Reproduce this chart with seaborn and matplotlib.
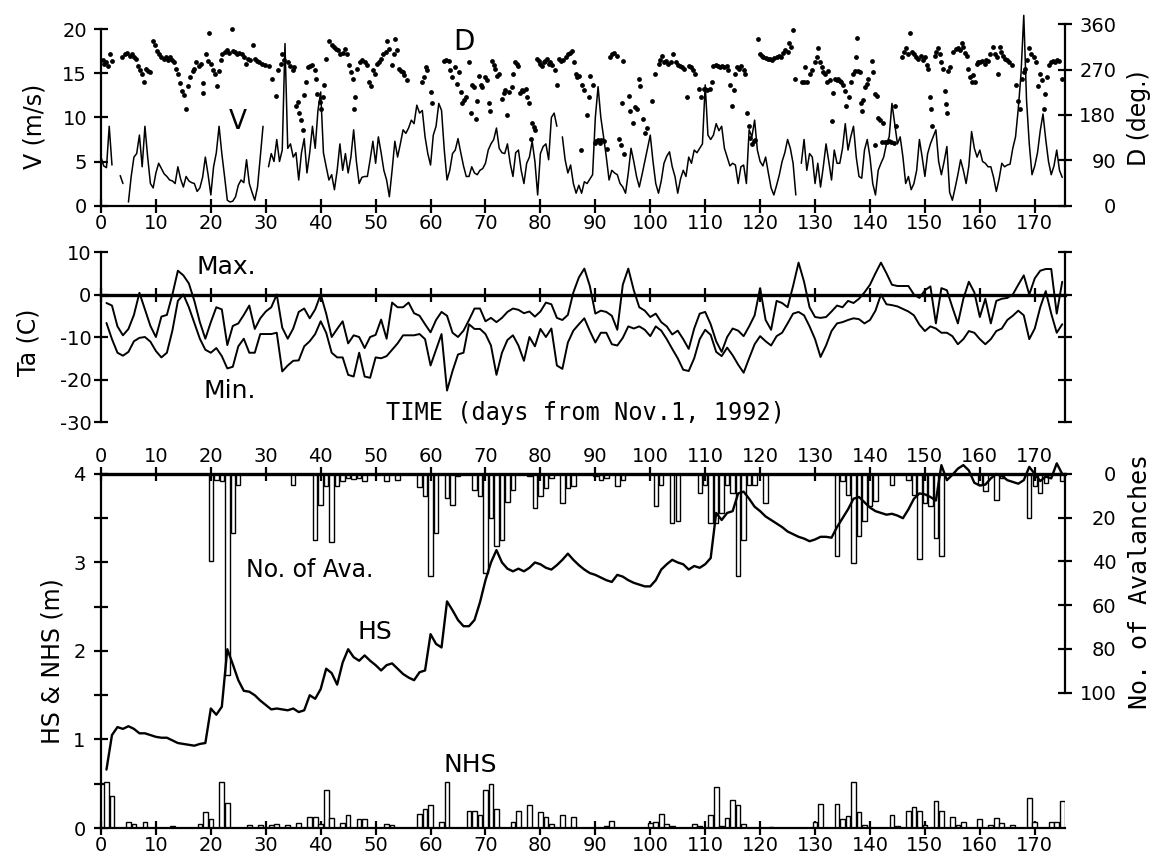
import numpy as np
import pandas as pd
import seaborn as sns
import matplotlib.pyplot as plt
from matplotlib.ticker import MultipleLocator

nan = np.nan

# Wind speed V (m/s), read every half day from day 0 to day 175 (nan = no record)
v_ms = [5.5, 4.5, 4.3, 9.0, 4.6, nan, nan, 3.4, 2.5, nan, 0.4, 3.3, 5.5, 5.9, 8.0, 4.4, 9.0, 5.5, 2.5, 2.0,
        3.7, 4.8, 4.2, 3.6, 3.3, 2.9, 2.8, 2.5, 4.4, 3.0, 2.1, 3.3, 2.8, 2.6, 2.5, 1.6, 2.0, 3.2, 5.5, 3.5,
        1.2, 4.4, 6.0, 9.0, 5.9, 3.3, 0.6, 0.4, 0.5, 1.0, 2.3, 2.9, 2.6, 5.2, 2.5, 1.5, 0.6, 2.1, 5.5, 9.0,
        nan, 4.4, 5.9, 5.0, 7.5, 5.0, 6.3, 18.4, 6.5, 7.0, 5.5, 6.0, 2.9, 6.0, 7.6, 3.7, 6.0, 9.0, 6.5, 10.8,
        12.9, 6.0, 4.4, 2.9, 3.5, 1.8, 4.0, 7.0, 4.0, 5.9, 3.7, 5.5, 8.6, 5.0, 2.5, 3.2, 3.3, 3.3, 5.2, 7.3,
        4.8, 7.8, 6.0, 4.0, 2.9, 1.0, 4.0, 7.3, 5.5, 7.0, 8.6, 8.2, 8.8, 9.7, 9.3, 11.4, 10.5, 10.8, 7.8, 5.9,
        4.6, 8.0, 9.0, 11.6, 10.8, 6.3, 2.9, 4.0, 5.9, 6.3, 7.6, 6.0, 4.5, 3.3, 3.3, 4.4, 3.7, 3.5, 4.0, 4.2,
        4.8, 6.3, 7.0, 7.5, 8.8, 6.5, 6.0, 5.9, 7.0, 4.8, 3.3, 6.0, 6.3, 4.0, 2.5, 4.8, 5.5, 7.3, 5.0, 1.2,
        5.9, 6.7, 7.0, 5.2, 10.0, 10.5, 9.0, nan, 7.8, 5.2, 3.7, 4.6, 2.5, 1.4, 2.3, 1.4, 2.7, 2.5, 3.0, 3.5,
        10.0, 13.5, 10.0, 7.8, 5.5, 2.9, 4.0, 3.7, 3.5, 2.5, 2.1, 1.4, 3.7, 6.5, 5.0, 3.3, 2.1, 3.5, 5.0, 6.5,
        8.0, 5.0, 2.5, 1.4, 2.8, 4.8, 5.6, 6.1, 4.4, 3.3, 1.4, 3.0, 4.0, 3.3, 5.5, 4.8, 6.3, 6.0, 6.5, 7.0,
        13.7, 8.0, 7.5, 8.0, 9.3, 8.5, 9.0, 6.5, 5.5, 4.5, 4.8, 4.6, 2.5, 4.4, 4.6, 2.5, 8.6, 7.8, 9.7, 6.3,
        5.0, 4.5, 5.5, 3.7, 2.0, 1.2, 2.3, 3.5, 5.0, 6.0, 7.5, 6.5, 4.8, 1.2, nan, 4.8, 7.5, 4.0, 5.9, 5.5,
        2.5, 4.8, 2.1, 4.4, 7.0, 5.0, 2.9, 6.3, 4.8, 4.8, 6.5, 9.3, 6.3, 7.8, 9.0, 5.5, 3.3, 3.1, 6.3, 7.5,
        5.5, 2.5, 1.2, 4.0, 4.8, 5.5, 7.0, 7.8, 11.6, 9.3, 7.0, 7.8, 5.5, 2.5, 3.3, 1.8, 2.5, 4.0, 7.5, 5.5,
        3.3, 5.9, 7.0, 7.8, 8.6, 5.0, 3.5, 5.0, 6.7, 1.5, 0.6, 2.0, 3.5, 5.2, 4.0, 2.5, 4.5, 8.4, 6.5, 5.5,
        6.3, 5.0, 4.8, 4.4, 4.4, 3.2, 1.6, 3.0, 4.8, 4.4, 4.6, 4.7, 6.5, 7.8, 11.0, 15.0, 21.6, 12.0, 7.0, 3.5,
        4.5, 6.0, 8.5, 10.4, 7.5, 5.0, 3.5, 4.5, 6.3, 4.0, 3.2]
v_day = np.arange(len(v_ms)) * 0.5

# Wind direction D (deg.), individual readings
d_day = [0.3, 0.6, 0.9, 1.2, 1.6, 2.0, 3.8, 4.3, 4.8, 5.2, 5.6, 6.0, 6.4, 6.8, 7.1, 7.5, 7.8, 8.2, 8.6, 9.0,
         9.4, 9.8, 10.2, 10.6, 11.0, 11.4, 11.8, 12.2, 12.6, 13.0, 13.3, 13.6, 14.0, 14.4, 14.8, 15.1, 15.5, 15.8, 16.2, 16.7,
         17.0, 17.3, 17.8, 18.2, 18.5, 18.6, 19.1, 19.4, 19.7, 20.1, 20.4, 20.8, 21.1, 21.5, 21.8, 22.1, 22.5, 22.9, 23.3, 23.8,
         24.0, 24.4, 24.8, 25.2, 25.6, 26.0, 26.4, 26.8, 27.2, 27.6, 28.0, 28.4, 28.8, 29.4, 29.9, 30.6, 31.2, 31.8, 32.3, 32.7,
         33.0, 33.4, 34.1, 34.5, 34.9, 35.2, 35.5, 35.8, 36.1, 36.5, 36.7, 37.0, 37.3, 37.6, 38.0, 38.5, 38.9, 39.1, 39.4, 39.8,
         40.1, 40.4, 40.6, 40.9, 41.5, 42.0, 42.4, 42.8, 43.2, 43.6, 44.0, 44.4, 44.7, 45.1, 45.5, 45.8, 46.1, 46.3, 46.7, 47.2,
         47.6, 48.0, 48.4, 48.8, 49.1, 49.5, 49.9, 50.3, 50.7, 51.0, 51.4, 51.8, 52.1, 52.5, 53.0, 53.3, 53.6, 53.9, 54.2, 54.6,
         55.0, 55.2, 55.8, 58.5, 58.8, 59.1, 59.4, 60.0, 60.3, 62.4, 62.8, 63.3, 63.6, 63.9, 64.5, 64.8, 65.2, 65.5, 65.8, 66.1,
         66.4, 67.0, 67.3, 67.6, 67.9, 68.2, 68.5, 68.8, 69.1, 69.4, 70.0, 70.3, 70.6, 70.9, 71.2, 71.5, 71.8, 72.1, 72.5, 73.0,
         73.3, 73.6, 73.9, 74.3, 74.8, 75.1, 75.4, 75.7, 76.0, 76.3, 76.6, 76.9, 77.3, 77.6, 77.9, 78.2, 78.5, 78.8, 79.1, 79.4,
         79.7, 80.0, 80.3, 80.6, 80.9, 81.2, 81.5, 81.8, 82.2, 82.6, 83.0, 83.4, 83.8, 84.2, 84.6, 85.0, 85.4, 85.8, 86.1, 86.4,
         86.7, 87.0, 87.3, 87.6, 88.0, 88.5, 88.8, 89.1, 89.6, 89.9, 90.2, 90.5, 90.8, 91.1, 91.5, 92.1, 92.7, 93.0, 93.4, 93.9,
         94.3, 94.6, 94.9, 95.0, 95.2, 96.1, 96.4, 96.8, 97.2, 97.6, 97.9, 98.2, 98.7, 99.1, 99.4, 100.3, 100.9, 101.5, 101.8, 102.1,
         102.5, 102.9, 103.3, 103.7, 104.2, 104.6, 105.0, 105.5, 105.8, 106.2, 106.7, 107.0, 107.4, 107.8, 108.2, 108.8, 109.3, 109.7, 110.0, 110.4,
         110.9, 111.2, 111.5, 111.9, 112.3, 112.7, 113.1, 113.5, 113.9, 114.2, 114.5, 114.8, 115.2, 115.5, 115.8, 116.2, 116.6, 117.0, 117.3, 117.6,
         117.9, 118.2, 118.5, 118.8, 119.1, 119.7, 120.0, 120.3, 120.6, 121.0, 121.4, 121.8, 122.2, 122.6, 123.0, 123.4, 123.8, 124.2, 124.6, 125.0,
         125.2, 125.6, 126.0, 126.4, 127.6, 128.0, 128.2, 128.5, 129.0, 129.4, 130.0, 130.3, 130.6, 130.9, 131.2, 131.5, 131.8, 132.1, 132.4, 132.7,
         133.0, 133.3, 133.6, 134.0, 134.2, 134.5, 134.8, 135.1, 135.4, 135.7, 136.2, 136.6, 137.0, 137.2, 137.5, 137.6, 137.9, 138.2, 138.4, 138.6,
         138.8, 139.1, 139.4, 139.7, 140.3, 140.6, 140.9, 141.0, 141.2, 141.5, 141.8, 142.1, 142.4, 142.7, 143.1, 143.5, 143.9, 144.3, 144.5, 144.8,
         145.9, 146.2, 146.5, 146.9, 147.3, 147.6, 148.0, 148.4, 148.8, 149.2, 149.6, 150.0, 150.3, 150.6, 150.9, 151.2, 151.3, 151.8, 152.1, 152.4,
         152.7, 153.0, 153.3, 153.6, 153.9, 154.0, 154.2, 154.6, 155.2, 155.6, 156.0, 156.4, 156.7, 157.0, 157.3, 157.6, 157.9, 158.2, 158.5, 158.8,
         159.1, 159.4, 159.7, 160.0, 160.4, 160.9, 161.2, 161.5, 161.9, 162.4, 162.8, 163.1, 163.3, 163.6, 163.9, 164.2, 164.6, 165.0, 165.4, 165.8,
         166.5, 167.0, 167.3, 167.6, 168.0, 168.2, 168.6, 169.0, 169.4, 169.8, 170.2, 170.6, 170.9, 171.3, 171.6, 171.9, 172.2, 172.6, 172.9, 173.3,
         173.7, 174.1, 174.5, 175.0]
d_deg = [290, 282, 285, 278, 300, 288, 295, 300, 302, 298, 300, 296, 292, 278, 270, 262, 245, 272, 268, 265,
         326, 318, 306, 300, 296, 292, 295, 290, 296, 290, 285, 272, 262, 244, 228, 220, 191, 238, 255, 268,
         272, 285, 278, 282, 244, 224, 300, 288, 343, 282, 270, 262, 238, 268, 290, 300, 305, 308, 302, 350,
         306, 304, 300, 302, 300, 296, 282, 292, 290, 318, 292, 288, 286, 282, 280, 278, 252, 218, 270, 282,
         300, 290, 285, 278, 270, 275, 197, 205, 184, 170, 150, 220, 245, 275, 278, 280, 270, 252, 221, 205,
         191, 215, 240, 292, 326, 318, 315, 310, 308, 300, 302, 310, 300, 280, 265, 252, 191, 215, 272, 285,
         290, 285, 280, 245, 238, 270, 262, 282, 285, 292, 300, 305, 326, 310, 280, 300, 330, 308, 272, 268,
         265, 260, 249, 245, 255, 275, 270, 225, 204, 288, 290, 288, 270, 255, 275, 241, 265, 225, 204, 210,
         215, 285, 184, 240, 235, 171, 207, 258, 240, 235, 255, 250, 204, 188, 288, 280, 272, 258, 262, 211,
         224, 230, 180, 225, 235, 262, 285, 282, 278, 224, 230, 228, 232, 215, 204, 133, 164, 156, 150, 292,
         288, 282, 278, 285, 288, 292, 282, 285, 280, 270, 240, 292, 288, 290, 295, 300, 302, 306, 285, 262,
         255, 258, 110, 240, 230, 180, 215, 258, 240, 125, 128, 130, 125, 130, 128, 113, 296, 300, 302, 298,
         133, 120, 204, 288, 103, 218, 188, 164, 195, 191, 252, 238, 171, 144, 154, 207, 261, 282, 290, 298,
         285, 288, 282, 285, 301, 285, 280, 278, 275, 272, 215, 278, 275, 270, 262, 231, 215, 231, 232, 230,
         231, 245, 278, 280, 278, 276, 278, 275, 278, 270, 240, 197, 230, 262, 275, 272, 278, 270, 261, 184,
         157, 135, 123, 128, 130, 330, 300, 298, 296, 294, 292, 292, 290, 294, 296, 298, 295, 303, 308, 305,
         322, 315, 348, 252, 245, 245, 275, 246, 261, 270, 285, 295, 312, 285, 275, 265, 261, 245, 268, 249,
         167, 224, 252, 250, 252, 248, 245, 240, 228, 197, 215, 245, 262, 268, 295, 332, 268, 265, 204, 188,
         210, 235, 241, 252, 288, 265, 221, 120, 218, 174, 170, 126, 164, 126, 126, 128, 126, 125, 197, 157,
         295, 305, 312, 300, 342, 305, 300, 296, 292, 298, 290, 296, 280, 271, 215, 191, 157, 298, 305, 312,
         300, 285, 271, 228, 201, 184, 268, 275, 305, 310, 312, 308, 322, 315, 302, 298, 271, 255, 245, 260,
         245, 281, 285, 285, 288, 282, 290, 288, 300, 315, 300, 295, 261, 315, 305, 298, 292, 290, 285, 280,
         240, 208, 191, 251, 265, 272, 290, 312, 300, 296, 285, 238, 262, 250, 191, 221, 255, 280, 285, 288,
         286, 290, 288, 251]

# Daily air temperature Ta (C), days 1..175
t_day = np.arange(1, 176)
t_max = [-2.0, -2.6, -7.5, -9.6, -8.1, -4.8, 0.4, -3.5, -7.4, -10.0,
         -5.2, -4.8, 0.0, 5.6, 4.5, 2.6, -1.5, -6.5, -10.4, -6.5,
         -3.0, -3.5, -11.9, -7.4, -6.8, -4.8, -2.6, -8.1, -5.6, -4.0,
         -3.0, 0.0, -7.8, -10.4, -8.0, -4.1, -3.3, -5.6, -3.5, 0.0,
         -4.5, -10.0, -8.1, -6.3, -11.5, -9.6, -10.0, -12.6, -10.0, -9.5,
         -5.9, -10.4, -1.9, -3.0, -3.0, -1.9, -4.4, -5.0, -7.0, -8.9,
         -6.0, -4.1, -5.0, -9.0, -10.0, -8.5, -6.0, -3.3, -3.3, -6.3,
         -5.5, -6.5, -5.5, -4.1, -3.3, -3.6, -4.4, -4.0, -5.2, -4.0,
         -1.9, -2.3, -5.5, -6.0, -4.8, 0.5, 4.0, 6.1, 2.0, -4.5,
         -3.8, -4.1, -5.0, -8.3, 2.3, 6.1, 1.0, -3.0, -3.8, -5.3,
         -4.5, -6.5, -7.5, -9.4, -8.5, -10.5, -12.8, -8.0, -4.5, -4.1,
         -7.0, -11.0, -13.5, -10.0, -8.0, -8.5, -9.8, -7.5, -4.9, 1.5,
         -6.0, -8.3, -1.5, -2.0, -3.0, 2.0, 7.5, 3.0, -3.0, -5.3,
         -5.5, -5.3, -4.0, -2.6, -3.0, -1.5, -2.0, -1.0, 0.5, 2.3,
         5.0, 7.5, 5.0, 2.3, 2.0, 2.0, 2.0, 0.0, -0.8, 1.0,
         1.9, -6.8, 1.5, 1.0, -3.0, -6.8, -1.0, 3.0, 0.5, -5.3,
         -1.0, -6.8, -1.5, -1.0, -0.8, 0.0, 2.3, 4.5, 0.0, 3.8,
         5.6, 6.0, 6.0, -4.5, 3.0]
t_min = [-6.7, -10.5, -13.7, -14.4, -13.5, -11.0, -10.2, -10.0, -11.1, -13.3,
         -14.8, -13.7, -8.5, -1.5, 0.0, -3.0, -6.7, -10.4, -13.0, -13.7,
         -12.6, -14.5, -17.4, -17.0, -12.2, -10.4, -13.7, -13.7, -9.3, -9.3,
         -9.3, -9.0, -18.1, -16.7, -15.6, -15.5, -12.2, -11.0, -9.3, -6.3,
         -9.0, -13.7, -14.8, -14.8, -18.9, -19.3, -13.7, -19.3, -19.6, -14.8,
         -15.0, -14.5, -13.0, -11.5, -9.6, -9.6, -9.6, -9.3, -10.5, -16.7,
         -13.0, -9.3, -22.6, -18.0, -14.1, -13.7, -7.0, -8.1, -8.1, -9.3,
         -12.0, -18.9, -13.7, -10.7, -9.6, -12.0, -15.6, -10.0, -12.2, -8.1,
         -10.0, -8.0, -16.7, -17.5, -11.3, -8.5, -7.0, -5.6, -8.6, -11.3,
         -9.0, -9.0, -11.7, -12.0, -10.2, -7.5, -8.0, -7.5, -8.3, -9.8,
         -7.5, -8.5, -10.5, -12.8, -15.0, -17.7, -18.0, -15.0, -10.5, -8.3,
         -9.5, -13.5, -14.5, -12.5, -14.3, -16.5, -18.4, -15.0, -11.7, -9.8,
         -11.0, -12.0, -9.8, -9.0, -6.8, -4.5, -4.1, -4.9, -7.5, -10.5,
         -14.7, -12.0, -8.6, -6.8, -6.5, -6.0, -5.6, -5.8, -6.8, -6.0,
         -3.8, 0.0, -2.3, -2.5, -2.8, -3.4, -4.0, -4.9, -7.1, -8.6,
         -7.5, -8.0, -9.0, -9.0, -9.8, -11.7, -10.5, -8.6, -9.0, -10.5,
         -11.7, -10.5, -8.6, -8.0, -6.0, -5.0, -3.8, -4.9, -10.5, -8.0,
         -3.0, 0.8, -4.5, -9.0, -7.0]

# Snow depth HS (m), days 1..175
hs_m = [0.66, 1.05, 1.14, 1.12, 1.15, 1.12, 1.07, 1.07, 1.05, 1.03,
        1.02, 1.02, 0.99, 0.96, 0.95, 0.94, 0.93, 0.95, 0.96, 1.35,
        1.28, 1.37, 2.02, 1.85, 1.67, 1.55, 1.54, 1.50, 1.44, 1.39,
        1.34, 1.35, 1.34, 1.33, 1.35, 1.31, 1.33, 1.50, 1.46, 1.57,
        1.80, 1.75, 1.62, 1.87, 2.02, 1.93, 1.89, 1.95, 1.89, 1.84,
        1.78, 1.84, 1.86, 1.80, 1.74, 1.70, 1.67, 1.76, 1.78, 2.19,
        2.08, 2.04, 2.56, 2.46, 2.35, 2.28, 2.28, 2.35, 2.55, 2.80,
        3.00, 3.14, 3.00, 2.93, 2.90, 2.93, 2.90, 2.94, 3.00, 2.98,
        2.94, 2.92, 2.97, 3.03, 3.10, 3.03, 2.97, 2.92, 2.88, 2.86,
        2.83, 2.80, 2.78, 2.86, 2.84, 2.80, 2.77, 2.75, 2.73, 2.73,
        2.80, 2.92, 2.98, 3.03, 3.00, 2.98, 2.92, 2.96, 2.94, 2.98,
        3.05, 3.56, 3.48, 3.56, 3.58, 3.78, 3.80, 3.72, 3.63, 3.58,
        3.52, 3.48, 3.44, 3.40, 3.35, 3.32, 3.29, 3.27, 3.24, 3.26,
        3.29, 3.29, 3.28, 3.40, 3.50, 3.60, 3.72, 3.74, 3.68, 3.62,
        3.58, 3.56, 3.54, 3.55, 3.53, 3.50, 3.60, 3.72, 3.78, 3.77,
        3.74, 3.70, 4.10, 3.93, 3.99, 4.06, 4.10, 4.04, 3.90, 3.87,
        3.88, 3.95, 4.00, 3.98, 3.93, 3.91, 3.89, 3.93, 4.08, 4.00,
        3.92, 3.97, 3.95, 4.12, 4.00]

# New snow NHS (m)
nhs_day = [1, 2, 5, 6, 8, 13, 18, 19, 20, 22, 23, 27, 29, 31, 32, 34, 36, 38, 39, 40,
           41, 42, 44, 45, 47, 48, 52, 53, 58, 59, 60, 62, 63, 67, 68, 69, 70, 71, 72, 75,
           76, 78, 80, 81, 82, 84, 86, 92, 93, 100, 101, 102, 103, 104, 108, 109, 111, 112, 113, 114,
           115, 116, 117, 122, 130, 131, 134, 135, 136, 137, 138, 139, 144, 145, 147, 148, 149, 150, 152, 153,
           155, 156, 157, 160, 162, 163, 164, 166, 169, 170, 173, 174, 175]
nhs_m = [0.52, 0.36, 0.07, 0.04, 0.07, 0.02, 0.05, 0.18, 0.10, 0.52, 0.28, 0.03, 0.03, 0.03, 0.04, 0.03, 0.06, 0.13, 0.12, 0.05,
         0.43, 0.11, 0.06, 0.15, 0.10, 0.10, 0.05, 0.03, 0.16, 0.22, 0.26, 0.07, 0.52, 0.19, 0.19, 0.15, 0.43, 0.50, 0.21, 0.07,
         0.19, 0.26, 0.18, 0.12, 0.04, 0.15, 0.12, 0.02, 0.08, 0.06, 0.07, 0.16, 0.05, 0.02, 0.04, 0.02, 0.15, 0.46, 0.02, 0.11,
         0.32, 0.26, 0.05, 0.01, 0.07, 0.27, 0.27, 0.10, 0.14, 0.52, 0.18, 0.03, 0.15, 0.02, 0.19, 0.24, 0.19, 0.03, 0.31, 0.19,
         0.12, 0.03, 0.07, 0.10, 0.03, 0.11, 0.06, 0.03, 0.34, 0.07, 0.07, 0.07, 0.31]

# Number of avalanches per day
ava_day = [20, 21, 22, 23, 24, 25, 35, 39, 40, 41, 42, 43, 44, 45, 46, 47, 48, 52, 54, 58,
           59, 60, 61, 63, 64, 65, 68, 69, 70, 71, 72, 73, 74, 75, 78, 79, 80, 81, 82, 84,
           85, 86, 90, 91, 92, 94, 95, 101, 102, 104, 105, 109, 110, 111, 112, 113, 114, 115, 116, 117,
           118, 119, 121, 134, 135, 136, 137, 138, 139, 140, 141, 144, 147, 148, 149, 150, 151, 152, 153, 160,
           161, 163, 164, 169, 170, 171, 172, 175]
ava_n = [40, 2.6, 3, 92, 27, 5, 5, 30, 14, 5.6, 31, 5.6, 3.3, 1.8, 2.5, 1.8, 3.3, 3.3, 2.6, 5.9,
         10.2, 46.7, 27.2, 10.9, 14, 1, 7.2, 10.2, 45.2, 20, 33, 30, 13, 7.2, 1, 15.5, 10.2, 6.4, 1.8, 13.5,
         6.5, 5.5, 1, 2.6, 2, 5.6, 2.6, 14.8, 4.9, 22.4, 21.6, 8.7, 4.9, 22.4, 22.4, 17.8, 4.9, 8.7, 46.7, 30,
         4.9, 5, 13.2, 37.6, 3.3, 9.4, 40.6, 28.5, 21.6, 14.8, 12.5, 4.9, 2.6, 9.4, 39, 13.2, 14.8, 29.2, 37.6, 4.9,
         7.9, 11.7, 1.8, 20.1, 5.6, 8.7, 4.1, 3.3]

sns.set_theme(style='ticks')
plt.rcParams['font.family'] = ['DejaVu Sans']
plt.rcParams['axes.unicode_minus'] = False
plt.rcParams['axes.linewidth'] = 1.6
plt.rcParams['axes.edgecolor'] = 'black'
plt.rcParams['text.color'] = 'black'

fig = plt.figure(figsize=(11.62, 8.56), dpi=100)
L, W = 0.0869, 0.8296
XMAX = 175.5
day_ticks = list(range(0, 171, 10))
tk = dict(direction='inout', length=10, width=1.6, color='black', labelsize=14, labelcolor='black')


def right_labels(ax, pad):
    ax.tick_params(axis='y', pad=pad)
    plt.setp(ax.get_yticklabels(), ha='right')


# ---------- top: wind speed and direction ----------
ax_v = fig.add_axes([L, 0.7599, W, 0.2129])
v_df = pd.DataFrame({'day': v_day, 'v': v_ms})
v_df['seg'] = v_df['v'].isna().cumsum()
v_df = v_df.dropna()
sns.lineplot(data=v_df, x='day', y='v', units='seg', estimator=None, color='black',
             linewidth=1.1, ax=ax_v, legend=False, clip_on=False)
ax_v.set_xlim(0, XMAX)
ax_v.set_ylim(0, 20.7)
ax_v.set_xticks(day_ticks)
ax_v.set_yticks([0, 5, 10, 15, 20])
ax_v.spines['top'].set_visible(False)
ax_v.spines['right'].set_visible(False)
ax_v.spines['left'].set_bounds(0, 20)
ax_v.tick_params(**tk)
ax_v.tick_params(axis='x', pad=1)
ax_v.tick_params(axis='y', pad=5)
ax_v.set_xlabel('')
ax_v.set_ylabel('')
ax_v.text(66, 18.6, 'D', fontsize=20, ha='center', va='center')
ax_v.text(24.9, 9.5, 'V', fontsize=19, ha='center', va='center')

ax_d = ax_v.twinx()
sns.scatterplot(x=d_day, y=d_deg, ax=ax_d, color='black', s=12, linewidth=0, legend=False)
ax_d.set_ylim(0, 362)
ax_d.set_xlim(0, XMAX)
ax_d.set_yticks([0, 90, 180, 270, 360])
for s in ['left', 'top', 'bottom']:
    ax_d.spines[s].set_visible(False)
ax_d.spines['right'].set_bounds(0, 360)
ax_d.tick_params(**tk)
ax_d.set_ylabel('')
right_labels(ax_d, 32)

# ---------- middle: air temperature ----------
ax_t = fig.add_axes([L, 0.5070, W, 0.1986])
sns.lineplot(x=t_day, y=t_max, ax=ax_t, color='black', linewidth=1.4, estimator=None)
sns.lineplot(x=t_day, y=t_min, ax=ax_t, color='black', linewidth=1.4, estimator=None)
ax_t.set_xlim(0, XMAX)
ax_t.set_ylim(-30, 10)
ax_t.set_xticks(day_ticks)
ax_t.set_yticks([-30, -20, -10, 0, 10])
ax_t.spines['top'].set_visible(False)
ax_t.spines['bottom'].set_position(('data', 0))
ax_t.spines['bottom'].set_linewidth(2.4)
ax_t.yaxis.set_ticks_position('both')
ax_t.tick_params(**tk)
ax_t.tick_params(axis='x', labelbottom=False)
ax_t.tick_params(axis='y', labelright=False, pad=2)
ax_t.set_xlabel('')
ax_t.set_ylabel('')
ax_t.text(17.3, 6.5, 'Max.', fontsize=18, ha='left', va='center')
ax_t.text(18.7, -22.7, 'Min.', fontsize=18, ha='left', va='center')
ax_t.text(51.8, -27.9, 'TIME (days from Nov.1, 1992)', fontsize=17, ha='left', va='center',
          family='DejaVu Sans Mono')

# ---------- bottom: snow depth, new snow, avalanches ----------
ax_h = fig.add_axes([L, 0.0327, W, 0.4136])
sns.barplot(x=nhs_day, y=nhs_m, native_scale=True, orient='x', width=0.85, color='white',
            saturation=1, edgecolor='black', linewidth=1.0, errorbar=None, ax=ax_h)
sns.lineplot(x=t_day, y=hs_m, ax=ax_h, color='black', linewidth=1.7, estimator=None,
             clip_on=False, zorder=3)
ax_h.set_xlim(0, XMAX)
ax_h.set_ylim(0, 4)
ax_h.set_xticks(day_ticks)
ax_h.set_xticklabels([str(d) for d in day_ticks])
ax_h.set_yticks([0, 1, 2, 3, 4])
ax_h.yaxis.set_minor_locator(MultipleLocator(0.5))
ax_h.spines['right'].set_visible(False)
ax_h.spines['top'].set_linewidth(2.4)
ax_h.xaxis.set_ticks_position('both')
ax_h.tick_params(**tk)
ax_h.tick_params(axis='y', which='minor', direction='inout', length=10, width=1.6, color='black')
ax_h.tick_params(axis='x', labeltop=True, labelbottom=True, pad=1)
ax_h.tick_params(axis='y', pad=6)
ax_h.set_xlabel('')
ax_h.set_ylabel('')
ax_h.text(26.4, 2.92, 'No. of Ava.', fontsize=17, ha='left', va='center')
ax_h.text(49.8, 2.21, 'HS', fontsize=18, ha='center', va='center')
ax_h.text(67.3, 0.71, 'NHS', fontsize=18, ha='center', va='center')

ax_a = ax_h.twinx()
sns.barplot(x=ava_day, y=ava_n, native_scale=True, orient='x', width=0.8, fill=False,
            color='black', linewidth=1.0, errorbar=None, ax=ax_a)
ax_a.set_xlim(0, XMAX)
ax_a.set_ylim(162, 0)
ax_a.set_yticks([0, 20, 40, 60, 80, 100])
for s in ['left', 'top', 'bottom']:
    ax_a.spines[s].set_visible(False)
ax_a.spines['right'].set_bounds(0, 100)
ax_a.tick_params(**tk)
ax_a.set_ylabel('')
ax_a.set_xlabel('')
right_labels(ax_a, 32)

# axis titles
fig.text(0.0301, 0.8528, 'V (m/s)', rotation=90, fontsize=17, ha='center', va='center')
fig.text(0.9802, 0.8621, 'D (deg.)', rotation=90, fontsize=17, ha='center', va='center')
fig.text(0.0241, 0.6005, 'Ta (C)', rotation=90, fontsize=17, ha='center', va='center')
fig.text(0.0448, 0.2278, 'HS & NHS (m)', rotation=90, fontsize=17, ha='center', va='center')
fig.text(0.9811, 0.3201, 'No. of Avalanches', rotation=90, fontsize=18, ha='center', va='center',
         family='DejaVu Sans Mono')

fig.savefig('out.png', dpi=100)
